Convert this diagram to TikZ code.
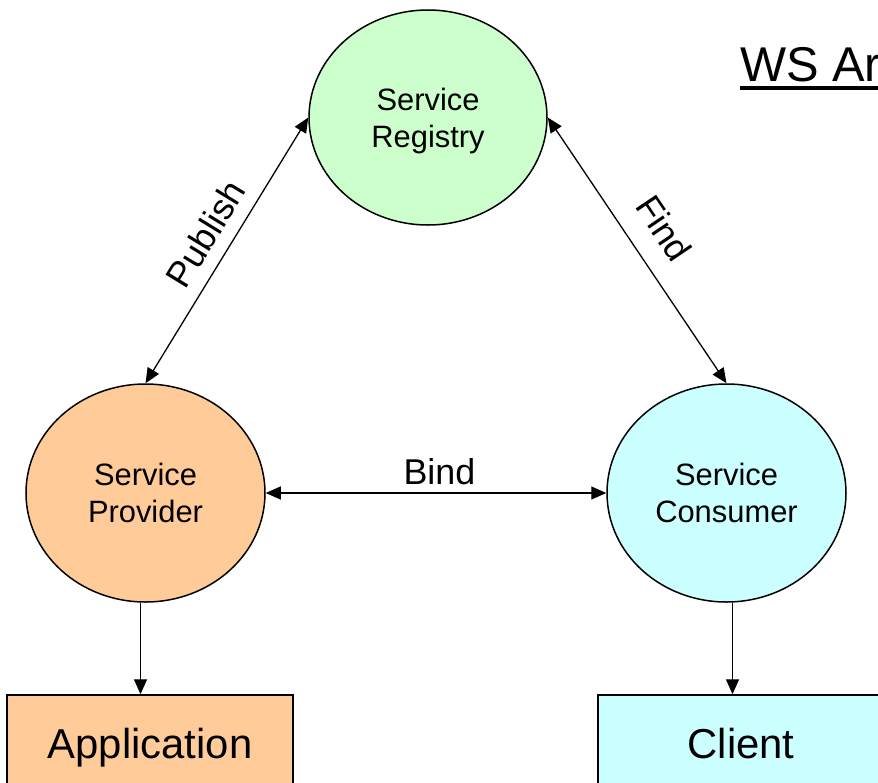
\documentclass[tikz,border=0pt]{standalone}
\usepackage{fontspec}
\setmainfont{Liberation Sans}
\usetikzlibrary{shapes.geometric,arrows.meta}
\definecolor{regfill}{HTML}{CCFFCC}
\definecolor{provfill}{HTML}{FFCC99}
\definecolor{consfill}{HTML}{CCFFFF}

\begin{document}
\begin{tikzpicture}[x=1bp,y=-1bp,
  role/.style={ellipse, draw, line width=1.5bp, inner sep=0pt, align=center,
    font=\fontsize{31}{37}\selectfont},
  endbox/.style={rectangle, draw, line width=1.5bp, minimum width=286bp,
    minimum height=96bp, inner sep=0pt, text height=30bp, text depth=0pt,
    font=\fontsize{42}{50}\selectfont},
  tip/.tip={Triangle[length=15bp,width=13bp]},
  link/.style={line width=1.3bp, tip-tip},
  feed/.style={line width=1.3bp, -tip},
  tag/.style={font=\fontsize{36}{43}\selectfont, inner sep=0pt, sloped}
]
\useasboundingbox (0,0) rectangle (878,783);

% the three roles
\node[role, fill=regfill, minimum width=238bp, minimum height=215bp]
  (reg) at (428,117.5) {Service\\\raisebox{0pt}[\height][0pt]{Registry}};
\node[role, fill=provfill, minimum width=239bp, minimum height=218bp]
  (prov) at (145.5,493) {Service\\Provider};
\node[role, fill=consfill, minimum width=239bp, minimum height=218bp]
  (cons) at (726.5,493) {Service\\Consumer};

% concrete parts below the roles
\node[endbox, fill=provfill] (app) at (150,743) {Application};
\node[endbox, fill=consfill] (client) at (741,743) {Client};

% title
\node[anchor=base west, inner sep=0pt, font=\fontsize{49}{59}\selectfont]
  (title) at (740,82) {WS Ar};
\draw[line width=4bp] ([yshift=-6bp]title.base west) -- ([yshift=-6bp]title.base east);

% interactions
\draw[link] (prov.north) -- node[tag, pos=0.51, above=13bp] {Publish} (reg.west);
\draw[link] (reg.east) -- node[tag, pos=0.49, above=21bp] {Find} (cons.north);
\draw[link] (prov.east) -- node[tag, pos=0.51, above=8bp] {Bind} (cons.west);

\draw[feed] ([xshift=-5bp]prov.south) -- ([xshift=-5bp]prov.south |- app.north);
\draw[feed] ([xshift=6bp]cons.south) -- ([xshift=6bp]cons.south |- client.north);
\end{tikzpicture}
\end{document}
